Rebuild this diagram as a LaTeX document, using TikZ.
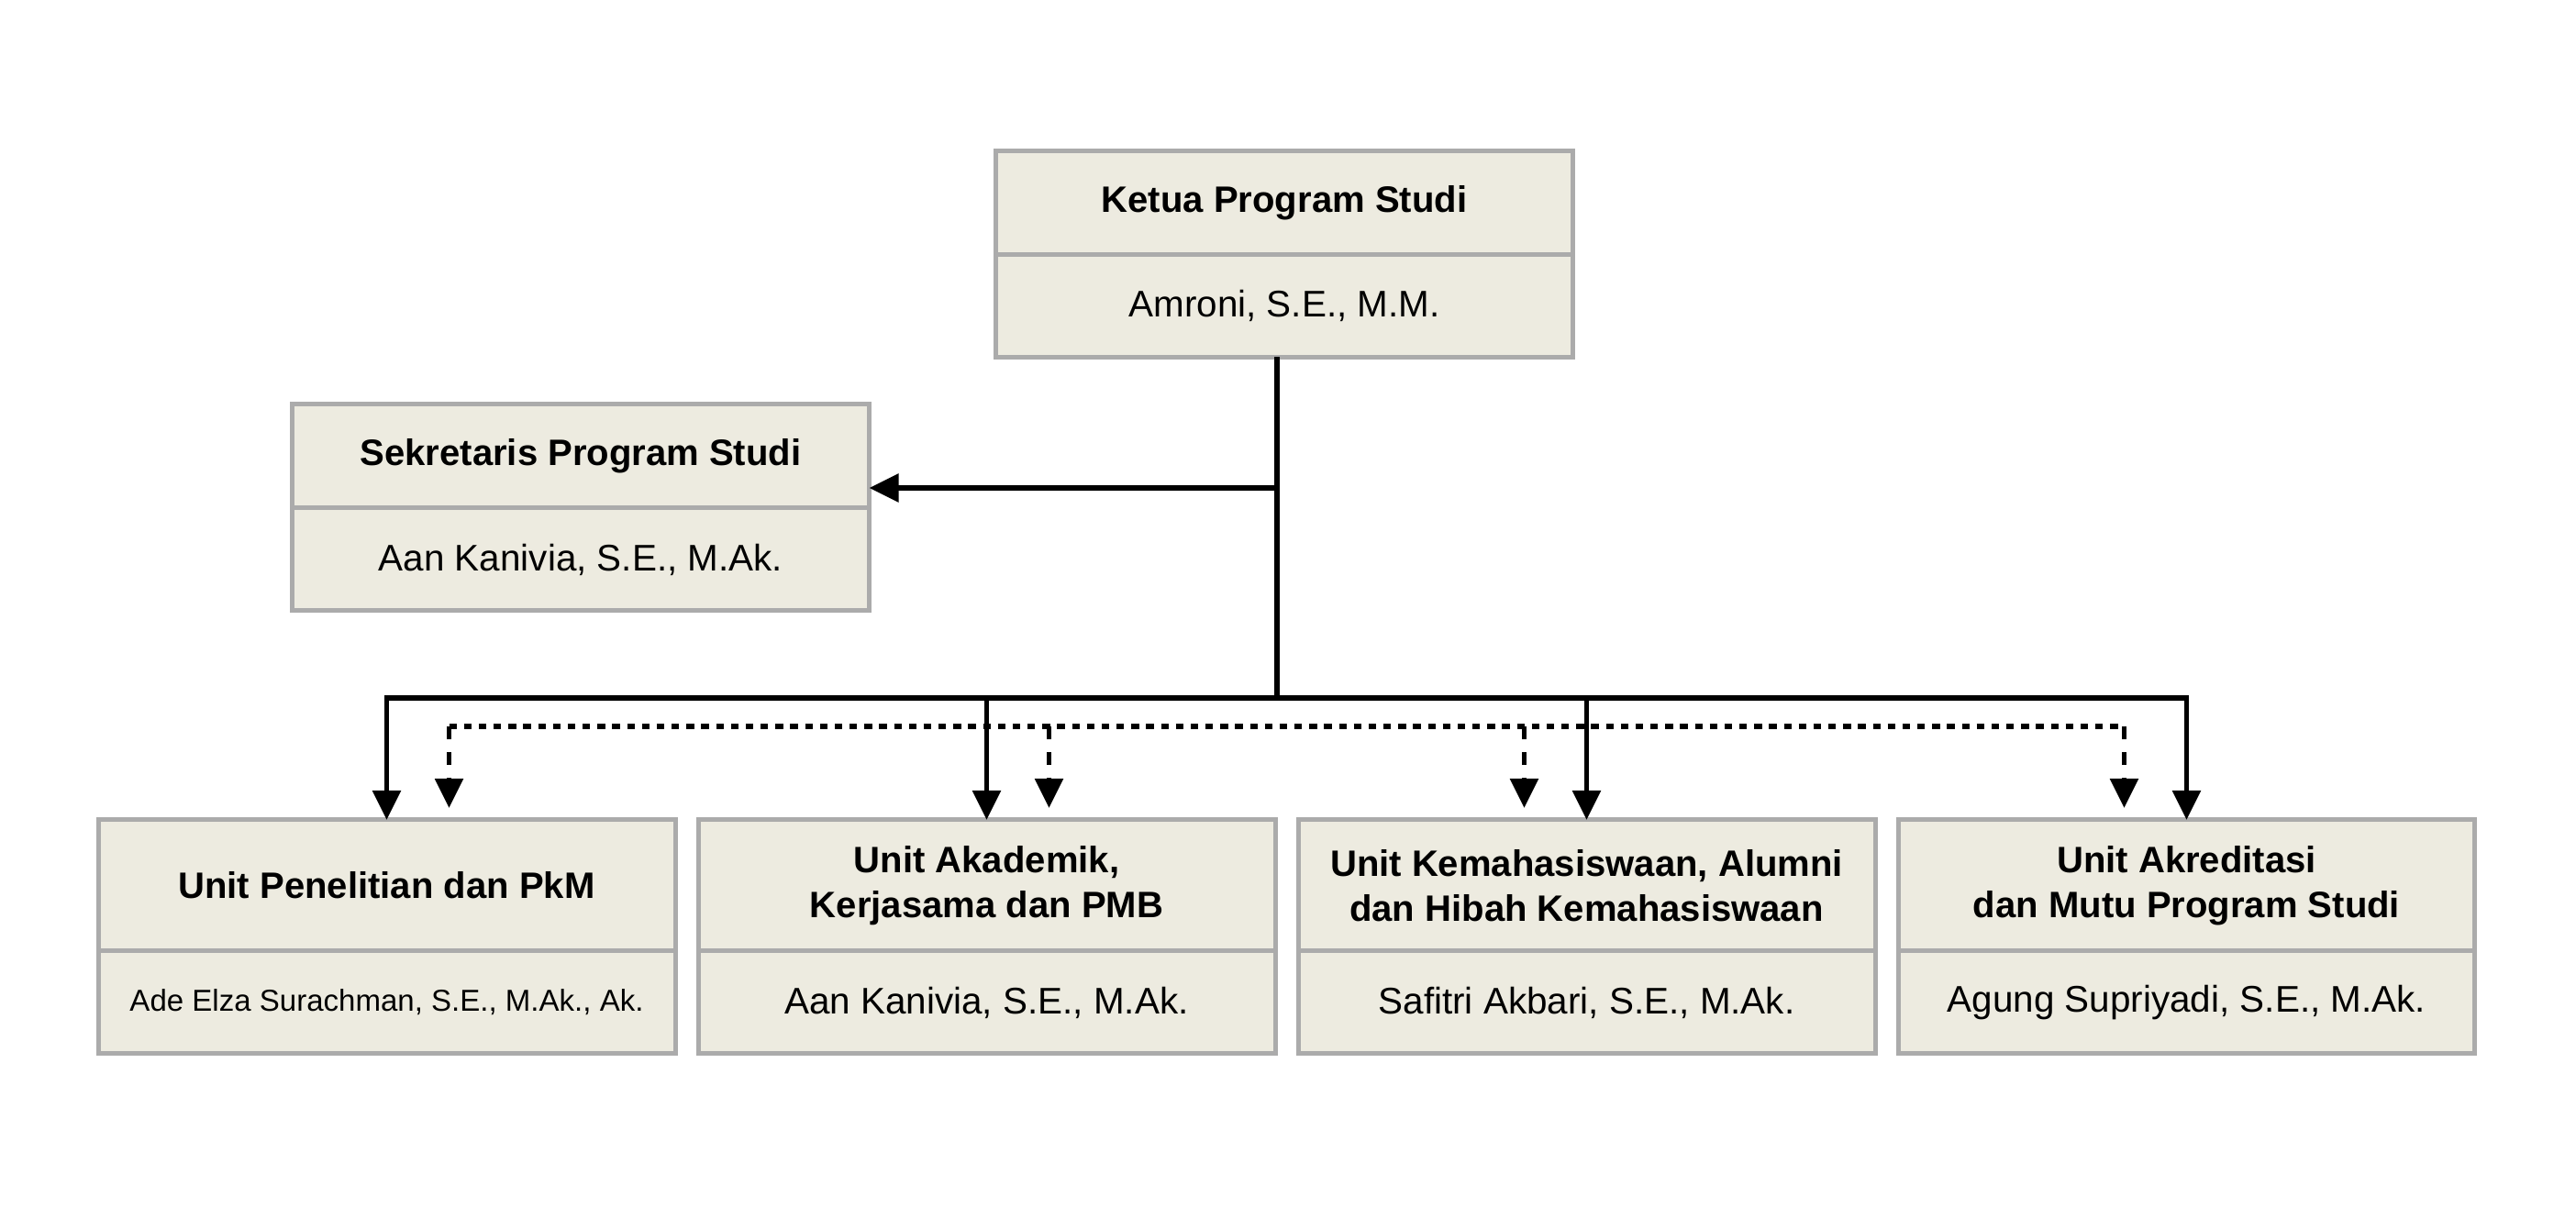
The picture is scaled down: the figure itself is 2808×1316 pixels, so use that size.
\documentclass[tikz,border=0pt]{standalone}
\usepackage{fontspec}
\setmainfont{Liberation Sans}
\usetikzlibrary{positioning,arrows.meta}
\definecolor{color0}{HTML}{ABABAB}
\definecolor{color1}{HTML}{EDEBE0}
\tikzset{
  orgbox/.style={draw=color0,fill=color1,line width=0.5mm,outer sep=0pt,inner sep=0pt,minimum width=62.9mm,align=center},
  orghead/.style={orgbox,minimum height=11.3mm,font=\bfseries\fontsize{11.4}{13.8}\selectfont},
  unithead/.style={orghead,minimum height=14.3mm},
  orgname/.style={orgbox,minimum height=11.2mm,font=\fontsize{11.5}{13}\selectfont},
  conn/.style={line width=1.6pt},
  link/.style={conn,-{Triangle[length=3.2mm,width=3mm]}},
  dotline/.style={line width=1.5pt,dash pattern=on 2.4pt off 2.2pt},
  dlink/.style={line width=1.5pt,dash pattern=on 4pt off 4pt,-{Triangle[length=3.2mm,width=3mm]}}
}
\begin{document}
\begin{tikzpicture}[x=0.1mm,y=-0.1mm]
\useasboundingbox (0,0) rectangle (2808,1316);
% top
\node[orghead] (ketua) at (1400,221) {Ketua Program Studi};
\node[orgname,below=0pt of ketua] (ketuaN) {Amroni, S.E., M.M.};
\node[orghead] (sek) at (633,497.5) {Sekretaris Program Studi};
\node[orgname,below=0pt of sek] (sekN) {Aan Kanivia, S.E., M.Ak.};
% units
\node[unithead] (u1) at (421.5,965.5) {Unit Penelitian dan PkM};
\node[unithead,right=2.5mm of u1] (u2) {Unit Akademik,\\Kerjasama dan PMB};
\node[unithead,right=2.5mm of u2] (u3) {Unit Kemahasiswaan, Alumni\\dan Hibah Kemahasiswaan};
\node[unithead,right=2.5mm of u3] (u4) {Unit Akreditasi\\dan Mutu Program Studi};
\node[orgname,below=0pt of u1,font=\fontsize{9.4}{11}\selectfont] (u1N) {Ade Elza Surachman, S.E., M.Ak., Ak.};
\node[orgname,below=0pt of u2] (u2N) {Aan Kanivia, S.E., M.Ak.};
\node[orgname,below=0pt of u3] (u3N) {Safitri Akbari, S.E., M.Ak.};
\node[orgname,below=0pt of u4] (u4N) {Agung Supriyadi, S.E., M.Ak.};
% lines
\coordinate (top) at ([xshift=-0.8mm]ketuaN.south);
\coordinate (bus) at (top |- 0,761);
\draw[conn] (top) -- (bus);
\draw[link] (top |- 0,532) -- (sek.east |- 0,532);
\draw[conn,line cap=rect] (u1.north |- bus) -- (u4.north |- bus);
\foreach \u in {u1,u2,u3,u4}
  \draw[link] (\u.north |- bus) -- (\u.north);
\draw[dotline] ([xshift=6.8mm]u1.north |- 0,792) -- ([xshift=-6.8mm]u4.north |- 0,792);
\foreach \u/\s in {u1/6.8mm,u2/6.8mm,u3/-6.8mm,u4/-6.8mm}
  \draw[dlink] ([xshift=\s]\u.north |- 0,792) -- ([xshift=\s]\u.north |- 0,881);
\end{tikzpicture}
\end{document}
